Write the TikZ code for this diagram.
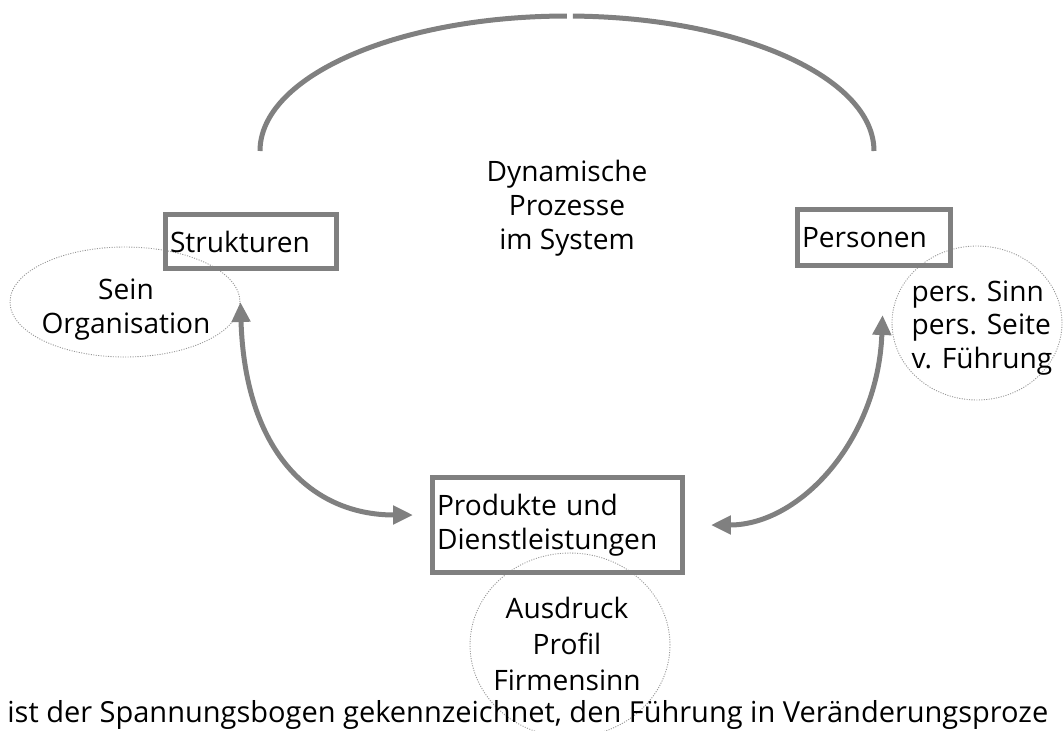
\documentclass[tikz,border=0pt]{standalone}
\usepackage{fontspec}
\setmainfont{Open Sans}
\usetikzlibrary{arrows.meta,shapes.geometric}
\definecolor{FrameGray}{RGB}{128,128,128}
\definecolor{DotGray}{RGB}{150,150,150}
\tikzset{
  framebox/.style={draw=FrameGray,line width=0.1cm,align=left,
    inner xsep=0.09cm,inner ysep=0pt,font=\fontsize{16}{19.3}\selectfont},
  notebubble/.style={draw=DotGray,ellipse,line width=0.5pt,
    dash pattern=on 0.6pt off 0.8pt,inner sep=0pt},
  notetext/.style={inner sep=0pt,font=\fontsize{16}{19.3}\selectfont},
  swingarrow/.style={{Triangle[length=0.4cm,width=0.36cm]}-{Triangle[length=0.4cm,width=0.36cm]},
    line width=0.1cm,draw=FrameGray},
  spanarc/.style={line width=0.1cm,draw=FrameGray},
}

\begin{document}
\begin{tikzpicture}[x=0.02cm,y=-0.02cm]
  \useasboundingbox (0,0) rectangle (1063,731);
  \node[notebubble,minimum width=4.6cm,minimum height=2.2cm] (sein) at (125,302) {};
  \node[notebubble,minimum width=3.4cm,minimum height=3.08cm] (perscirc) at (977,323) {};
  \node[notebubble,minimum width=4cm,minimum height=3.68cm] (ausd) at (570,645) {};
  \node[notetext,align=center] (seintext) at (126,310) {Sein\\Organisation};
  \node[notetext,align=left] (perstext) at (982,328) {pers. Sinn\\pers. Seite\\v. Führung};
  \node[notetext,align=center,font=\fontsize{16}{20.4}\selectfont] (ausdtext) at (567,644) {Ausdruck\\Profil\\Firmensinn};
  \node[notetext,align=center] (dyn) at (567,208) {Dynamische\\Prozesse\\im System};
  \node[framebox,minimum width=3.42cm,minimum height=1.08cm,text width=3.24cm] (strukt) at (251,241.5) {Strukturen};
  \node[framebox,minimum width=3.06cm,minimum height=1.12cm,text width=2.88cm] (pers) at (874,237.5) {Personen};
  \node[framebox,minimum width=5cm,minimum height=1.9cm,text width=4.82cm] (prod) at (557.5,525) {Produkte und\\Dienstleistungen};
  \coordinate (arcL) at (260,151);
  \coordinate (arcR) at (874,151);
  \draw[spanarc] (arcL) arc[start angle=180,end angle=90,x radius=6.14cm,y radius=2.7cm];
  \draw[spanarc] (arcR) arc[start angle=0,end angle=88.9,x radius=6.14cm,y radius=2.7cm];
  \draw[swingarrow] (sein.east) .. controls (245,450) and (310,515) .. ([xshift=-0.34cm,yshift=0.2cm]prod.west);
  \draw[swingarrow] ([xshift=0.52cm]prod.east) .. controls (800,525) and (878,440) .. ([xshift=-0.18cm,yshift=0.16cm]perscirc.west);
  \node[notetext,anchor=base west,font=\fontsize{16.5}{20}\selectfont] (caption) at (7,722) {ist der Spannungsbogen gekennzeichnet, den Führung in Veränderungsproze};
\end{tikzpicture}
\end{document}
